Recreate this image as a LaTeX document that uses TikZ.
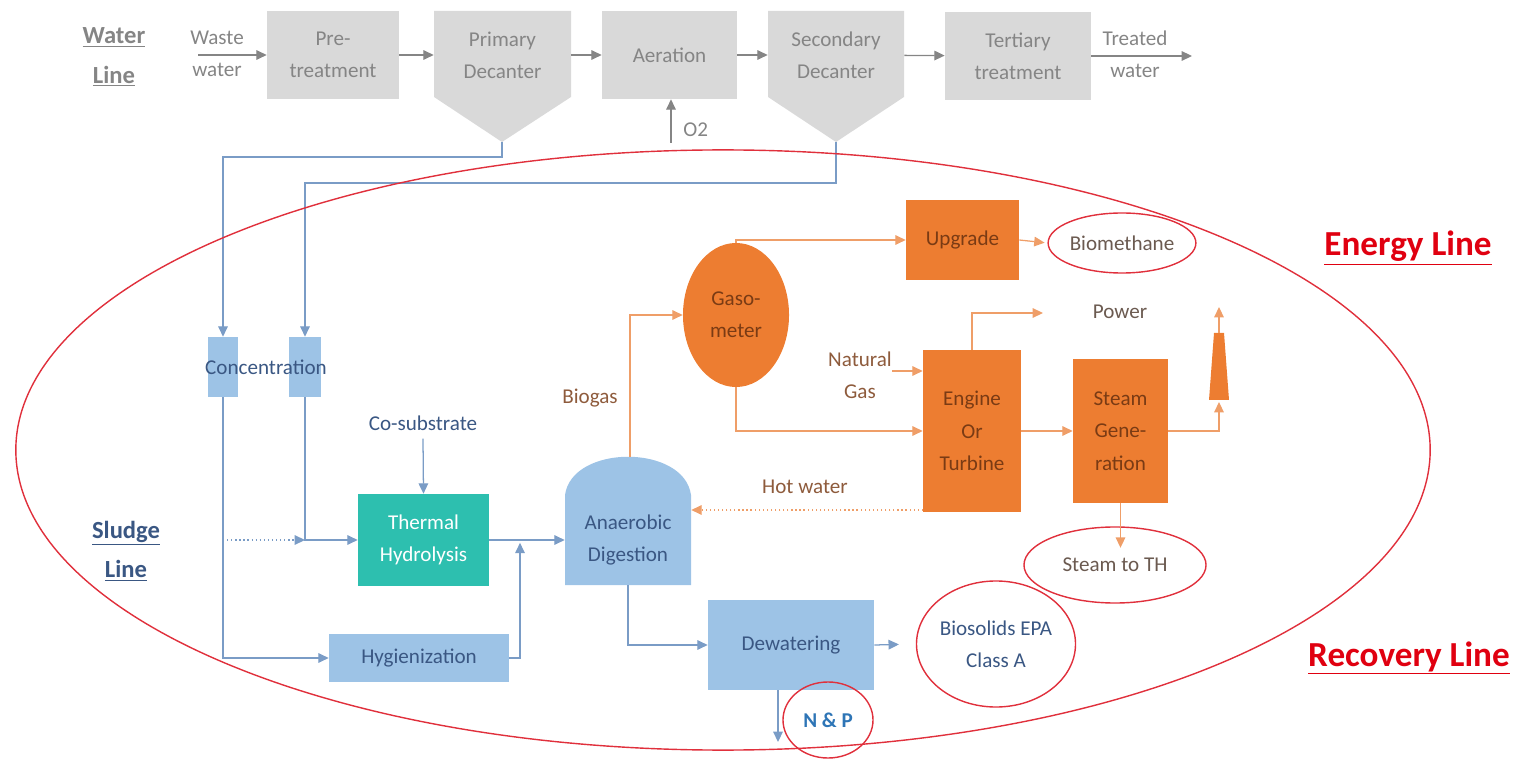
\documentclass[tikz,border=0pt]{standalone}
\usepackage{fontspec}
\setmainfont{Carlito}
\usetikzlibrary{arrows.meta,shapes.geometric}

\definecolor{wfill}{HTML}{D9D9D9}
\definecolor{wtext}{HTML}{858585}
\definecolor{sfill}{HTML}{9DC3E6}
\definecolor{stext}{HTML}{3A5783}
\definecolor{sline}{HTML}{7A9CC6}
\definecolor{thfill}{HTML}{2DBFAF}
\definecolor{efill}{HTML}{ED7D31}
\definecolor{etext}{HTML}{7A3B14}
\definecolor{eline}{HTML}{EF9E68}
\definecolor{elabel}{HTML}{8E5B3C}
\definecolor{olabel}{HTML}{6B5A50}
\definecolor{ringred}{HTML}{E0303C}
\definecolor{titlered}{HTML}{E00010}
\definecolor{npblue}{HTML}{2E75B6}

\begin{document}
\begin{tikzpicture}[x=0.025cm,y=-0.025cm,>={Triangle[length=2.6mm,width=2.4mm]},
  every node/.style={font=\fontsize{15}{23}\selectfont,align=center,inner sep=0pt},
  wbox/.style={fill=wfill,text=wtext,minimum height=2.2cm},
  sbox/.style={fill=sfill,text=stext},
  ebox/.style={fill=efill,text=etext},
  ring/.style={ellipse,draw=ringred,line width=1pt},
  wflow/.style={->,draw=wtext,line width=0.9pt},
  sflow/.style={->,draw=sline,line width=0.9pt},
  eflow/.style={->,draw=eline,line width=0.9pt},
  linelabel/.style={font=\fontsize{17.5}{28}\selectfont\bfseries},
  bigtitle/.style={font=\fontsize{25}{30}\selectfont\bfseries,text=titlered}]
  \useasboundingbox (0,0) rectangle (1519,760);

  % water line
  \node[linelabel,text=wtext] (wlabel) at (114,57) {\underline{Water}\\\underline{Line}};
  \node[text=wtext] (waste) at (217,54) {Waste\\water};
  \coordinate (wastein) at (198,55);
  \node[wbox,minimum width=3.3cm] (pre) at (333,55) {Pre-\\treatment};
  \fill[wfill] (434,11) -- (571,11) -- (571,97) -- (502,142) -- (434,97) -- cycle;
  \coordinate (primtip) at (502,142);
  \node[text=wtext,minimum width=3.425cm,minimum height=2.2cm] (prim) at (502.5,55) {Primary\\Decanter};
  \node[wbox,minimum width=3.375cm] (aer) at (669.5,55) {Aeration};
  \fill[wfill] (768,11) -- (904,11) -- (904,97) -- (836,142) -- (768,97) -- cycle;
  \coordinate (sectip) at (836,142);
  \node[text=wtext,minimum width=3.4cm,minimum height=2.2cm] (sec) at (836,55) {Secondary\\Decanter};
  \node[wbox,minimum width=3.65cm] (ter) at (1018,56) {Tertiary\\treatment};
  \node[text=wtext] (treated) at (1135,54) {Treated\\water};
  \coordinate (treatedout) at (1192,56);
  \coordinate (o2) at (671,143);
  \node[text=wtext,anchor=west] (o2label) at (683,130) {O2};

  \draw[wflow] (wastein) -- (pre);
  \draw[wflow] (pre) -- (prim);
  \draw[wflow] (prim) -- (aer);
  \draw[wflow] (aer) -- (sec);
  \draw[wflow] (sec) -- (ter);
  \draw[wflow] (ter) -- (treatedout);
  \draw[wflow] (o2) -- (o2 |- aer.south);

  % sludge line
  \node[linelabel,text=stext] (slabel) at (126,551) {\underline{Sludge}\\\underline{Line}};
  \node[sbox,minimum width=0.75cm,minimum height=1.5cm] (conc1) at (223,367) {};
  \node[sbox,minimum width=0.8cm,minimum height=1.5cm] (conc2) at (305,367) {};
  \node[text=stext] (conc) at (266,367) {Concentration};
  \node[text=stext] (cosub) at (423,423) {Co-substrate};
  \node[fill=thfill,text=white,minimum width=3.275cm,minimum height=2.3cm] (th) at (423.5,540) {Thermal\\Hydrolysis};
  \node[sbox,minimum width=4.5cm,minimum height=1.175cm] (hyg) at (419,658) {Hygienization};
  \fill[sfill] (565,585) -- (565,495) .. controls (572,444) and (684,444) .. (691,495) -- (691,585) -- cycle;
  \coordinate (adtop) at (630,457);
  \node[text=stext,minimum width=3.15cm,minimum height=2.25cm] (ad) at (628,540) {Anaerobic\\Digestion};
  \node[sbox,minimum width=4.15cm,minimum height=2.25cm] (dew) at (791,645) {Dewatering};
  \coordinate (mix) at (305,540);
  \coordinate (merge) at (520,540);

  \draw[sflow] (primtip) -- ++(0,15) -| (conc1.north);
  \draw[sflow] (sectip) -- ++(0,41) -| (conc2.north);
  \draw[sflow] (conc1.south) |- (hyg.west);
  \draw[sflow,dotted] (conc1.south |- mix) -- (mix);
  \draw[sflow] (conc2.south) |- (th.west);
  \draw[sflow] (cosub.south) ++(0,8) -- (th.north);
  \draw[sflow] (th.east) -- (ad.west);
  \draw[sflow] (hyg.east) -| ([yshift=-2pt]merge);
  \draw[sflow] (ad.south) |- (dew.west);

  % energy line
  \node[ellipse,fill=efill,text=etext,minimum width=2.65cm,minimum height=3.6cm] (gas) at (736,315) {Gaso-\\meter};
  \node[text=elabel] (biogas) at (590,398) {Biogas};
  \node[ebox,minimum width=2.825cm,minimum height=2cm] (upg) at (962.5,240) {Upgrade};
  \node[ring,text=olabel,minimum width=3.5cm,minimum height=1.5cm] (biom) at (1122,243) {Biomethane};
  \node[ebox,minimum width=2.45cm,minimum height=4.05cm] (eng) at (972,431) {Engine\\Or\\Turbine};
  \node[text=elabel] (ngas) at (860,375) {Natural\\Gas};
  \coordinate (ngin) at (892,371);
  \node[text=olabel] (power) at (1120,312) {Power};
  \coordinate (powout) at (1043,313);
  \node[ebox,minimum width=2.375cm,minimum height=3.575cm] (steam) at (1120.5,431) {Steam\\Gene-\\ration};
  \fill[efill] (1209,400) -- (1214,333) -- (1224,333) -- (1229,400) -- cycle;
  \coordinate (chimbot) at (1219,402);
  \coordinate (chimtop) at (1219,333);
  \node[ring,text=olabel,minimum width=4.55cm,minimum height=1.9cm] (sth) at (1115,565) {Steam to TH};
  \node[text=elabel] (hotw) at (805,487) {Hot water};
  \coordinate (hw) at (923,510);

  \draw[eflow] (adtop) |- (gas.west);
  \draw[eflow] (gas.north) |- (upg.west);
  \draw[eflow,shorten >=2pt] (upg.east) -- (biom.west);
  \draw[eflow] (gas.south) |- (eng.west);
  \draw[eflow] (ngin) -- (ngin -| eng.west);
  \draw[eflow] (eng.north) |- (powout);
  \draw[eflow] (eng.east) -- (steam.west);
  \draw[eflow] (steam.east) -| (chimbot);
  \draw[eflow] (chimtop) -- ++(0,-26);
  \draw[eflow] (steam.south) -- ++(0,45);
  \draw[eflow,dotted] (hw) -- (hw -| ad.east);

  % recovery
  \node[ring,text=stext,minimum width=3.6cm,minimum height=3.15cm] (bio) at (996,644) {Biosolids EPA\\Class A};
  \node[ring,text=npblue,font=\fontsize{15}{23}\selectfont\bfseries,minimum width=2.25cm,minimum height=1.9cm] (np) at (828,720) {N \& P};
  \coordinate (npout) at (778,742);
  \draw[sflow,shorten >=12pt] (dew.east) -- (bio.west);
  \draw[sflow] (dew.south -| npout) -- (npout);

  \draw[ringred,line width=1pt] (723,450) ellipse [x radius=17.675cm, y radius=7.5cm];
  \node[bigtitle] (energy) at (1408,248) {\underline{Energy Line}};
  \node[bigtitle] (recovery) at (1409,658) {\underline{Recovery Line}};
\end{tikzpicture}
\end{document}
